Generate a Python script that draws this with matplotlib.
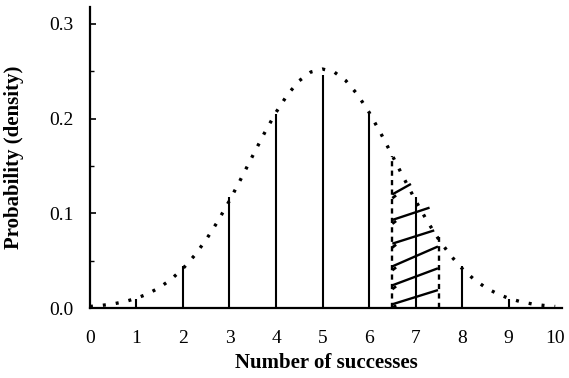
import numpy as np
import matplotlib.pyplot as plt

# binomial probabilities, n = 10, p = 0.5 (spikes)
successes = [1, 2, 3, 4, 5, 6, 7, 8, 9]
probs = [0.010, 0.044, 0.117, 0.205, 0.246, 0.205, 0.117, 0.044, 0.010]

# normal approximation curve, read at quarter steps
curve_x = [0.0, 0.25, 0.5, 0.75, 1.0, 1.25, 1.5, 1.75, 2.0, 2.25, 2.5, 2.75,
           3.0, 3.25, 3.5, 3.75, 4.0, 4.25, 4.5, 4.75, 5.0, 5.25, 5.5, 5.75,
           6.0, 6.25, 6.5, 6.75, 7.0, 7.25, 7.5, 7.75, 8.0, 8.25, 8.5, 8.75,
           9.0, 9.25, 9.5, 9.75, 10.0]
curve_y = [0.0017, 0.0028, 0.0044, 0.0068, 0.0103, 0.0152, 0.0218, 0.0305,
           0.0417, 0.0556, 0.0723, 0.0917, 0.1134, 0.1368, 0.1609, 0.1846,
           0.2066, 0.2255, 0.2400, 0.2492, 0.2523, 0.2492, 0.2400, 0.2255,
           0.2066, 0.1846, 0.1609, 0.1368, 0.1134, 0.0917, 0.0723, 0.0556,
           0.0417, 0.0305, 0.0218, 0.0152, 0.0103, 0.0068, 0.0044, 0.0028,
           0.0017]

# continuity-corrected interval for P(X = 7)
band_x = [6.5, 7.5]
band_top = [0.161, 0.075]

# hatch strokes: (x0, y0, x1, y1)
hatch = [
    (6.5, 0.004, 7.48, 0.019),
    (6.5, 0.024, 7.48, 0.042),
    (6.5, 0.044, 7.48, 0.065),
    (6.5, 0.068, 7.40, 0.082),
    (6.5, 0.093, 7.30, 0.106),
    (6.5, 0.120, 6.90, 0.131),
]

plt.rcParams['font.family'] = ['Liberation Serif', 'DejaVu Serif']

fig = plt.figure(figsize=(5.69, 3.78), dpi=100)
ax = fig.add_axes([0.158, 0.185, 0.83, 0.797])

ax.plot(curve_x, curve_y, color='black', lw=2.4, linestyle=(0, (0.9, 3.0)),
        dash_capstyle='butt')

ax.vlines(successes, 0, probs, color='black', lw=1.5)

ax.vlines(band_x, 0, band_top, color='black', lw=1.7, linestyles=(0, (2.2, 1.8)))

for x0, y0, x1, y1 in hatch:
    ax.plot([x0, x1], [y0, y1], color='black', lw=1.7, solid_capstyle='butt')
    # small hook at the left end of each stroke
    ax.plot([x0, x0 + 0.08], [y0 - 0.004, y0 - 0.001], color='black', lw=2.0,
            solid_capstyle='butt')

ax.set_xlim(0, 10.15)
ax.set_ylim(0, 0.318)
ax.spines['top'].set_visible(False)
ax.spines['right'].set_visible(False)
ax.spines['left'].set_linewidth(1.6)
ax.spines['bottom'].set_linewidth(1.6)

ax.set_xticks(range(0, 11))
ax.set_yticks([0.0, 0.1, 0.2, 0.3])
ax.set_yticklabels(['0.0', '0.1', '0.2', '0.3'])
ax.set_yticks([0.05, 0.15, 0.25], minor=True)
ax.tick_params(axis='x', length=0, pad=16, labelsize=14)
ax.tick_params(axis='y', which='major', direction='in', length=4, width=1.2,
               pad=12, labelsize=14)
ax.tick_params(axis='y', which='minor', direction='in', length=3, width=1.0)

ax.set_xlabel('Number of successes', fontsize=15, fontweight='bold', labelpad=4)
ax.set_ylabel('Probability (density)', fontsize=15, fontweight='bold', labelpad=18)

fig.savefig('out.png', dpi=100)
